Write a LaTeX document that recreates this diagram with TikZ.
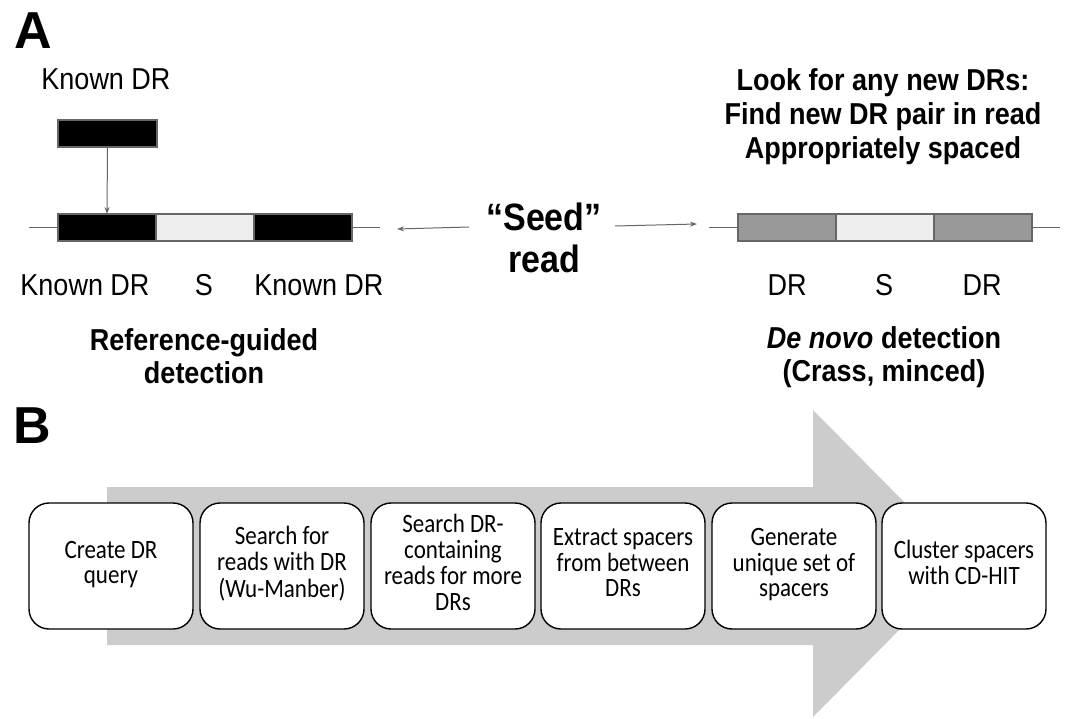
\documentclass[tikz,border=0pt]{standalone}
\usepackage{fontspec}
\usepackage{graphicx}
\setmainfont{Liberation Sans}
\newfontfamily\calibrifont{Carlito}
\usetikzlibrary{arrows.meta}
\definecolor{lnc}{HTML}{666666}
\definecolor{lightfill}{HTML}{EEEEEE}
\definecolor{midfill}{HTML}{999999}
\definecolor{bigarrow}{HTML}{CCCCCC}
\newcommand\talltext[1]{\scalebox{1}[1.15]{\begin{tabular}{@{}c@{}}#1\end{tabular}}}
\tikzset{
  seg/.style={draw=lnc, line width=1.3pt, minimum width=98pt, minimum height=27pt, inner sep=0pt, outer sep=0pt},
  darkseg/.style={seg, fill=black},
  lightseg/.style={seg, fill=lightfill},
  midseg/.style={seg, fill=midfill},
  strand/.style={draw=lnc, line width=1.3pt},
  pointer/.style={draw=lnc, line width=1pt, -{Stealth[length=7pt,width=5pt]}},
  lbl/.style={font=\fontsize{27}{31}\selectfont, inner sep=0pt, yscale=1.12},
  title/.style={font=\fontsize{27}{29.5}\selectfont\bfseries, align=center, inner sep=0pt, yscale=1.12},
  panel/.style={font=\fontsize{52}{56}\selectfont\bfseries, inner sep=0pt},
  stepbox/.style={draw=black, line width=1.4pt, fill=white, rounded corners=20pt,
    minimum width=164pt, minimum height=126pt, inner sep=2pt,
    font=\calibrifont\fontsize{23}{22.2}\selectfont}
}
\begin{document}
\begin{tikzpicture}[x=1pt, y=-1pt]
\useasboundingbox (0,0) rectangle (1065,719);

% Panel labels
\node[panel] (pA) at (33,31) {A};
\node[panel] (pB) at (32,426) {B};

% ---------- Left: reference-guided ----------
\node[lbl] (kdtop) at (106,79) {Known DR};
\node[darkseg, minimum width=99pt] (q) at (107.5,133.5) {};
\node[darkseg] (lk1) at (107,227.5) {};
\node[lightseg, anchor=west] (ls) at (lk1.east) {};
\node[darkseg, anchor=west] (lk2) at (ls.east) {};
\coordinate (lL) at (29,227.5);
\coordinate (lR) at (380,227.5);
\draw[strand] (lL) -- (lk1.west);
\draw[strand] (lk2.east) -- (lR);
\draw[pointer] (q.south) -- (lk1.north);

\node[lbl] (lab1) at (85,285) {Known DR};
\node[lbl] (lab2) at (204,285) {S};
\node[lbl] (lab3) at (319,285) {Known DR};
\node[title] (reft) at (204,356) {Reference-guided\\detection};

% ---------- Centre: seed read ----------
\node[font=\fontsize{34}{37}\selectfont\bfseries, align=center, inner sep=0pt, yscale=1.12] (seed) at (544,238) {“Seed”\\read};
\coordinate (sl1) at (469,227);
\coordinate (sl2) at (397,229);
\coordinate (sr1) at (615,226);
\coordinate (sr2) at (697,224);
\draw[pointer] (sl1) -- (sl2);
\draw[pointer] (sr1) -- (sr2);

% ---------- Right: de novo ----------
\node[title, font=\fontsize{27}{30.4}\selectfont\bfseries] (look) at (883,117) {Look for any new DRs:\\Find new DR pair in read\\Appropriately spaced};
\node[midseg] (rd1) at (787,227.5) {};
\node[lightseg, anchor=west] (rs) at (rd1.east) {};
\node[midseg, anchor=west] (rd2) at (rs.east) {};
\coordinate (rL) at (709,227.5);
\coordinate (rR) at (1060,227.5);
\draw[strand] (rL) -- (rd1.west);
\draw[strand] (rd2.east) -- (rR);

\node[lbl] (lab4) at (787,285) {DR};
\node[lbl] (lab5) at (884,285) {S};
\node[lbl] (lab6) at (982,285) {DR};
\node[title] (dnt) at (884,357) {\textit{De novo} detection\\(Crass, minced)};

% ---------- Panel B ----------
\fill[bigarrow] (107,487) -- (813,487) -- (813,410) -- (965,563.5) -- (813,717) -- (813,645) -- (107,645) -- cycle;

\node[stepbox] (b1) at (111,566) {\talltext{Create DR\\query}};
\node[stepbox] (b2) at (282,566) {\talltext{Search for\\reads with DR\\(Wu-Manber)}};
\node[stepbox] (b3) at (453,566) {\talltext{Search DR-\\containing\\reads for more\\DRs}};
\node[stepbox] (b4) at (623,566) {\talltext{Extract spacers\\from between\\DRs}};
\node[stepbox] (b5) at (794,566) {\talltext{Generate\\unique set of\\spacers}};
\node[stepbox] (b6) at (964,566) {\talltext{Cluster spacers\\with CD-HIT}};
\end{tikzpicture}
\end{document}
